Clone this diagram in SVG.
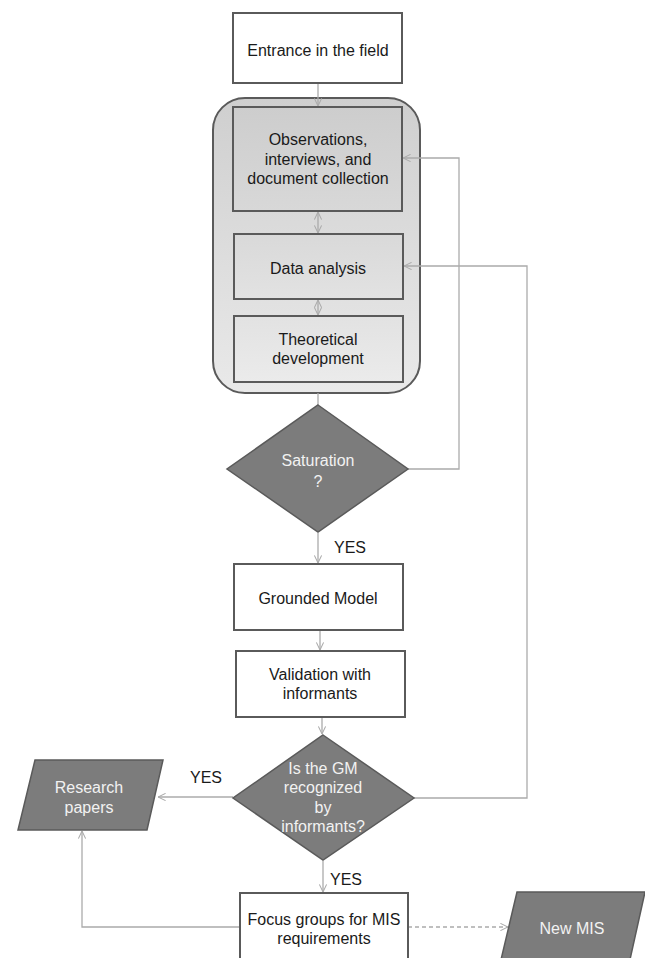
<svg xmlns="http://www.w3.org/2000/svg" width="645" height="958" viewBox="0 0 645 958">
<style>
text{font-family:"Liberation Sans",Arial,sans-serif;font-size:16px;text-anchor:middle}
.dk{fill:#1a1a1a}
.wt{fill:#f2f2f2}
.box{fill:#ffffff;stroke:#5a5a5a;stroke-width:2}
.gbox{stroke:#5a5a5a;stroke-width:2}
.dia{fill:#7c7c7c;stroke:#5a5a5a;stroke-width:1.5}
.con{fill:none;stroke:#ababab;stroke-width:1.3}
</style>
<defs>
<linearGradient id="gc" x1="0" y1="0" x2="0" y2="1">
<stop offset="0" stop-color="#cfcfcf"/>
<stop offset="1" stop-color="#e9e9e9"/>
</linearGradient>
<linearGradient id="gb1" x1="0" y1="0" x2="0" y2="1">
<stop offset="0" stop-color="#cdcdcd"/>
<stop offset="1" stop-color="#d8d8d8"/>
</linearGradient>
<linearGradient id="gb2" x1="0" y1="0" x2="0" y2="1">
<stop offset="0" stop-color="#d9d9d9"/>
<stop offset="1" stop-color="#e2e2e2"/>
</linearGradient>
<linearGradient id="gb3" x1="0" y1="0" x2="0" y2="1">
<stop offset="0" stop-color="#e2e2e2"/>
<stop offset="1" stop-color="#ebebeb"/>
</linearGradient>
<marker id="ah" viewBox="0 0 10 10" refX="9.5" refY="5" markerWidth="8" markerHeight="8" orient="auto-start-reverse" markerUnits="userSpaceOnUse">
<path d="M0,0.5 L9.5,5 L0,9.5" fill="none" stroke="#ababab" stroke-width="1.3"/>
</marker>
</defs>

<g id="container">
<rect x="213" y="98" width="207" height="295" rx="32" ry="32" fill="url(#gc)" stroke="#5a5a5a" stroke-width="2"/>
</g>

<g id="connectors">
<line class="con" x1="318" y1="83" x2="318" y2="106" marker-end="url(#ah)"/>
<line class="con" x1="318" y1="212" x2="318" y2="233" marker-start="url(#ah)" marker-end="url(#ah)"/>
<line class="con" x1="318" y1="300" x2="318" y2="315" marker-start="url(#ah)" marker-end="url(#ah)"/>
<line class="con" x1="318" y1="393" x2="318" y2="405"/>
<polyline class="con" points="408,469 459,469 459,158 403,158" marker-end="url(#ah)"/>
<polyline class="con" points="414,798 527,798 527,266 404,266" marker-end="url(#ah)"/>
<line class="con" x1="318" y1="533" x2="318" y2="563" marker-end="url(#ah)"/>
<line class="con" x1="320" y1="630" x2="320" y2="650" marker-end="url(#ah)"/>
<line class="con" x1="322" y1="717" x2="322" y2="734" marker-end="url(#ah)"/>
<line class="con" x1="233" y1="797" x2="158" y2="797" marker-end="url(#ah)"/>
<line class="con" x1="323" y1="861" x2="323" y2="892" marker-end="url(#ah)"/>
<polyline class="con" points="240,927 82,927 82,831" marker-end="url(#ah)"/>
<line class="con" x1="408" y1="927" x2="508" y2="927" stroke-dasharray="4,3" marker-end="url(#ah)"/>
<text class="dk" x="350" y="553">YES</text>
<text class="dk" x="206" y="783">YES</text>
<text class="dk" x="346" y="885">YES</text>
</g>

<g id="entrance">
<rect class="box" x="233" y="13" width="169" height="70"/>
<text class="dk" x="318" y="56">Entrance in the field</text>
</g>

<g id="observations">
<rect class="gbox" x="233" y="107" width="169" height="104" fill="url(#gb1)"/>
<text class="dk" x="318" y="145">Observations,</text>
<text class="dk" x="318" y="165">interviews, and</text>
<text class="dk" x="318" y="184">document collection</text>
</g>

<g id="data-analysis">
<rect class="gbox" x="234" y="234" width="169" height="65" fill="url(#gb2)"/>
<text class="dk" x="318" y="274">Data analysis</text>
</g>

<g id="theoretical">
<rect class="gbox" x="234" y="316" width="169" height="66" fill="url(#gb3)"/>
<text class="dk" x="318" y="345">Theoretical</text>
<text class="dk" x="318" y="364">development</text>
</g>

<g id="saturation">
<polygon class="dia" points="318,405 408,469 318,532 227,469"/>
<text class="wt" x="318" y="466">Saturation</text>
<text class="wt" x="318" y="487">?</text>
</g>

<g id="grounded">
<rect class="box" x="234" y="564" width="169" height="66"/>
<text class="dk" x="318" y="604">Grounded Model</text>
</g>

<g id="validation">
<rect class="box" x="236" y="651" width="169" height="66"/>
<text class="dk" x="320" y="680">Validation with</text>
<text class="dk" x="320" y="699">informants</text>
</g>

<g id="gm-recognized">
<polygon class="dia" points="323,735 414,798 323,860 233,798"/>
<text class="wt" x="323" y="774">Is the GM</text>
<text class="wt" x="323" y="793">recognized</text>
<text class="wt" x="323" y="813">by</text>
<text class="wt" x="323" y="832">informants?</text>
</g>

<g id="research-papers">
<polygon class="dia" points="35,760 163,760 147,830 18,830"/>
<text class="wt" x="89" y="793">Research</text>
<text class="wt" x="89" y="813">papers</text>
</g>

<g id="focus-groups">
<rect class="box" x="240" y="893" width="168" height="80"/>
<text class="dk" x="324" y="925">Focus groups for MIS</text>
<text class="dk" x="324" y="944">requirements</text>
</g>

<g id="new-mis">
<polygon class="dia" points="517,892 645,892 629,964 500,964"/>
<text class="wt" x="572" y="934">New MIS</text>
</g>
</svg>
